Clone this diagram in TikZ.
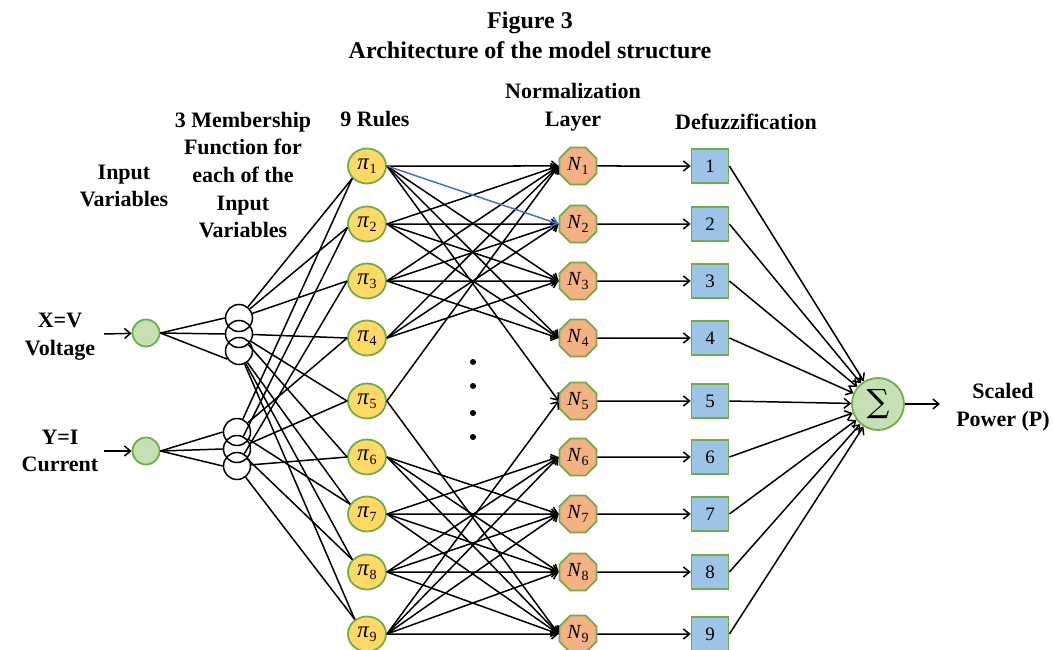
\documentclass[tikz,border=0pt]{standalone}
\usepackage{fontspec}
\setmainfont{Liberation Serif}
\newfontfamily\sumfont{DejaVu Serif}
\usetikzlibrary{shapes.geometric,arrows.meta}
\definecolor{gbord}{HTML}{70AD47}
\definecolor{gfill}{HTML}{C5E0B4}
\definecolor{yfill}{HTML}{FFD966}
\definecolor{ofill}{HTML}{F4B183}
\definecolor{bfill}{HTML}{9DC3E6}
\definecolor{blueline}{HTML}{4472C4}
\newcommand{\symsub}[2]{\textit{#1}\raisebox{-0.4ex}{\fontsize{14}{14}\selectfont #2}}
\begin{document}
\begin{tikzpicture}[x=1pt,y=-1pt,
  lbl/.style={font=\fontsize{22}{27.7}\selectfont\bfseries, align=center, inner sep=0pt},
  ttl/.style={font=\fontsize{24}{30}\selectfont\bfseries, align=center, inner sep=0pt},
  innode/.style={circle, draw=gbord, fill=gfill, line width=1.8pt, minimum size=27pt, inner sep=0pt},
  mf/.style={circle, draw=black, line width=1.5pt, minimum size=27pt, inner sep=0pt},
  rulenode/.style={ellipse, draw=gbord, fill=yfill, line width=1.8pt, minimum width=38pt, minimum height=35pt, inner sep=0pt, font=\fontsize{23}{23}\selectfont},
  normnode/.style={regular polygon, regular polygon sides=8, draw=gbord, fill=ofill, line width=1.8pt, minimum size=40pt, inner sep=0pt, font=\fontsize{20}{20}\selectfont},
  defz/.style={rectangle, draw=gbord, fill=bfill, line width=1.8pt, minimum width=37pt, minimum height=34pt, inner sep=0pt, font=\fontsize{19}{19}\selectfont},
  sumnode/.style={circle, draw=gbord, fill=gfill, line width=1.8pt, minimum size=52pt, inner sep=0pt, font=\fontsize{32}{32}\sumfont},
  dotnode/.style={circle, fill=black, minimum size=6pt, inner sep=0pt},
  conn/.style={line width=1.5pt},
  arr/.style={conn, -{Straight Barb[length=6pt,width=10pt]}},
]
\useasboundingbox (0,0) rectangle (1054,650);

% titles and labels
\node[ttl] (title) at (530,35) {Figure 3\\Architecture of the model structure};
\node[lbl] (lin) at (124,186) {Input\\Variables};
\node[lbl] (lmf) at (243,175) {3 Membership\\Function for\\each of the\\Input\\Variables};
\node[lbl] (lrules) at (375,119) {9 Rules};
\node[lbl] (lnorm) at (573,107) {Normalization\\Layer};
\node[lbl] (ldef) at (746,122) {Defuzzification};
\node[lbl] (lx) at (60,337) {X=V\\Voltage};
\node[lbl] (ly) at (60,451) {Y=I\\Current};
\node[lbl] (lout) at (1003,407) {Scaled\\Power (P)};

% inputs
\node[innode] (X) at (146,333) {};
\node[innode] (Y) at (146,451) {};
\coordinate (xin) at (104,334);
\coordinate (yin) at (104,451);
\draw[arr] (xin) -- (X);
\draw[arr] (yin) -- (Y);

% membership functions
\node[mf] (A1) at (239,318) {};
\node[mf] (A2) at (239,334) {};
\node[mf] (A3) at (239,351) {};
\node[mf] (B1) at (237,432) {};
\node[mf] (B2) at (237,449) {};
\node[mf] (B3) at (237,466) {};
\draw[conn] (X.east) -- (A1.west);
\draw[conn] (X.east) -- (A2.west);
\draw[conn] (X.east) -- (A3.215);
\draw[conn] (Y.east) -- (B1.west);
\draw[conn] (Y.east) -- (B2.west);
\draw[conn] (Y.east) -- (B3.west);

% rules, normalization, defuzzification
\foreach \i/\y in {1/166,2/224,3/281,4/338,5/401,6/457,7/514,8/572,9/634}{
  \node[rulenode] (p\i) at (367,\y) {\symsub{π}{\i}};
  \node[normnode] (n\i) at (578,\y) {\symsub{N}{\i}};
  \node[defz] (s\i) at (710,\y) {\i};
}

% MF -> rules
\draw[conn] (A1) -- (p1.220);
\draw[conn] (A1) -- (p2.190);
\draw[conn] (A1) -- (p3.180);
\draw[conn] (A2) -- (p4.180);
\draw[conn] (A2) -- (p5.180);
\draw[conn] (A2) -- (p6.180);
\draw[conn] (A3) -- (p7.150);
\draw[conn] (A3) -- (p8.140);
\draw[conn] (A3) -- (p9.130);
\draw[conn] (B1) -- (p1.220);
\draw[conn] (B1) -- (p4.180);
\draw[conn] (B1) -- (p7.150);
\draw[conn] (B2) -- (p2.190);
\draw[conn] (B2) -- (p5.180);
\draw[conn] (B2) -- (p8.140);
\draw[conn] (B3) -- (p3.180);
\draw[conn] (B3) -- (p6.180);
\draw[conn] (B3) -- (p9.130);

% rules -> normalization
\foreach \a/\b in {1/1,1/3,1/4,1/5, 2/1,2/2,2/3,2/4, 3/1,3/2,3/3,3/4, 4/1,4/2,4/3, 5/1,5/9,
                   6/7,6/8,6/9, 7/6,7/7,7/8,7/9, 8/6,8/7,8/8,8/9, 9/5,9/6,9/7,9/8,9/9}{
  \draw[arr] (p\a.east) -- (n\b.west);
}
\draw[arr, draw=blueline] (p1.east) -- (n2.west);

% dots
\node[dotnode] (d1) at (473,362) {};
\node[dotnode] (d2) at (473,386) {};
\node[dotnode] (d3) at (473,413) {};
\node[dotnode] (d4) at (473,437) {};

% sum
\node[sumnode] (sig) at (878,404) {∑};
\coordinate (outp) at (940,404);
\foreach \i in {1,...,9}{
  \draw[arr] (n\i.east) -- (s\i.west);
  \draw[arr] (s\i.east) -- (sig);
}
\draw[arr] (sig) -- (outp);
\end{tikzpicture}
\end{document}
